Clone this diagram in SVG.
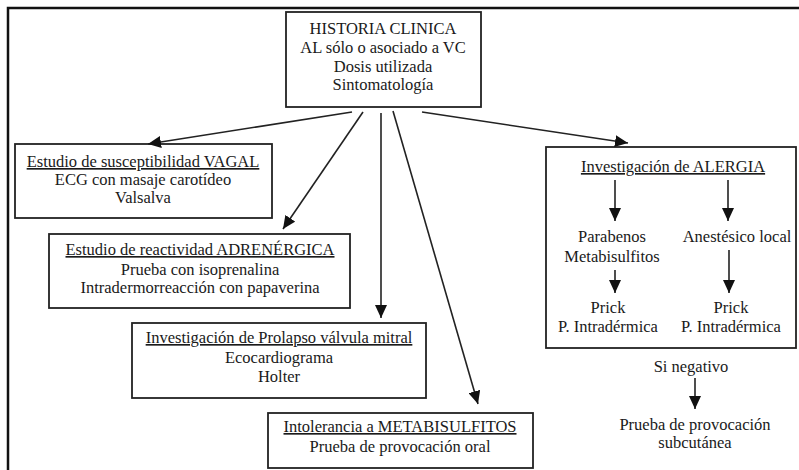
<svg xmlns="http://www.w3.org/2000/svg" width="799" height="470" viewBox="0 0 799 470">
<style>
text{font-family:'Liberation Serif','Tinos','Times New Roman','DejaVu Serif',serif;font-size:16.5px;fill:#1a1a1a;text-anchor:middle}
.u{text-decoration:underline}
.box{fill:#fff;stroke:#222;stroke-width:1.8}
.c{stroke:#222;stroke-width:1.6;fill:none}
</style>
<defs>
<marker id="ah" markerUnits="userSpaceOnUse" markerWidth="14" markerHeight="12" refX="13" refY="6" orient="auto">
<path d="M0,0 L13,6 L0,12 Z" fill="#111"/>
</marker>
</defs>
<rect width="799" height="470" fill="#fff"/>
<g id="frame">
<path d="M8,470 L8,8 L799,8" fill="none" stroke="#111" stroke-width="2.5"/>
</g>
<g id="historia" font-family="Liberation Serif, serif">
<rect class="box" x="286" y="12" width="195" height="95"/>
<text x="383" y="34">HISTORIA CLINICA</text>
<text x="383" y="53">AL sólo o asociado a VC</text>
<text x="383" y="72">Dosis utilizada</text>
<text x="383" y="90">Sintomatología</text>
</g>
<g id="vagal">
<rect class="box" x="15" y="144" width="257" height="74"/>
<text class="u" x="143" y="167">Estudio de susceptibilidad VAGAL</text>
<text x="143" y="185">ECG con masaje carotídeo</text>
<text x="143" y="203">Valsalva</text>
</g>
<g id="adrenergica">
<rect class="box" x="49" y="234" width="301" height="74"/>
<text class="u" x="200" y="255">Estudio de reactividad ADRENÉRGICA</text>
<text x="200" y="275">Prueba con isoprenalina</text>
<text x="200" y="293">Intradermorreacción con papaverina</text>
</g>
<g id="prolapso">
<rect class="box" x="132" y="323" width="294" height="75"/>
<text class="u" x="279" y="343">Investigación de Prolapso válvula mitral</text>
<text x="279" y="363">Ecocardiograma</text>
<text x="279" y="382">Holter</text>
</g>
<g id="metabisulfitos">
<rect class="box" x="268" y="413" width="265" height="55"/>
<text class="u" x="400" y="432">Intolerancia a METABISULFITOS</text>
<text x="400" y="452">Prueba de provocación oral</text>
</g>
<g id="alergia">
<rect class="box" x="546" y="147" width="250" height="201"/>
<text class="u" x="673" y="172">Investigación de ALERGIA</text>
<text x="612" y="242">Parabenos</text>
<text x="612" y="262">Metabisulfitos</text>
<text x="737" y="242">Anestésico local</text>
<text x="608" y="313">Prick</text>
<text x="608" y="332">P. Intradérmica</text>
<text x="731" y="313">Prick</text>
<text x="731" y="332">P. Intradérmica</text>
</g>
<g id="negativo">
<text x="691" y="372">Si negativo</text>
<text x="695" y="430">Prueba de provocación</text>
<text x="695" y="448">subcutánea</text>
</g>
<g id="connectors">
<line class="c" x1="352" y1="112" x2="148" y2="144" marker-end="url(#ah)"/>
<line class="c" x1="363" y1="112" x2="283" y2="229" marker-end="url(#ah)"/>
<line class="c" x1="381" y1="113" x2="381" y2="318" marker-end="url(#ah)"/>
<line class="c" x1="393" y1="111" x2="478" y2="404" marker-end="url(#ah)"/>
<line class="c" x1="422" y1="112" x2="628" y2="143" marker-end="url(#ah)"/>
<line class="c" x1="615" y1="180" x2="615" y2="221" marker-end="url(#ah)"/>
<line class="c" x1="728" y1="180" x2="728" y2="221" marker-end="url(#ah)"/>
<line class="c" x1="615" y1="270" x2="615" y2="293" marker-end="url(#ah)"/>
<line class="c" x1="729" y1="250" x2="729" y2="293" marker-end="url(#ah)"/>
<line class="c" x1="695" y1="378" x2="695" y2="409" marker-end="url(#ah)"/>
</g>
</svg>
